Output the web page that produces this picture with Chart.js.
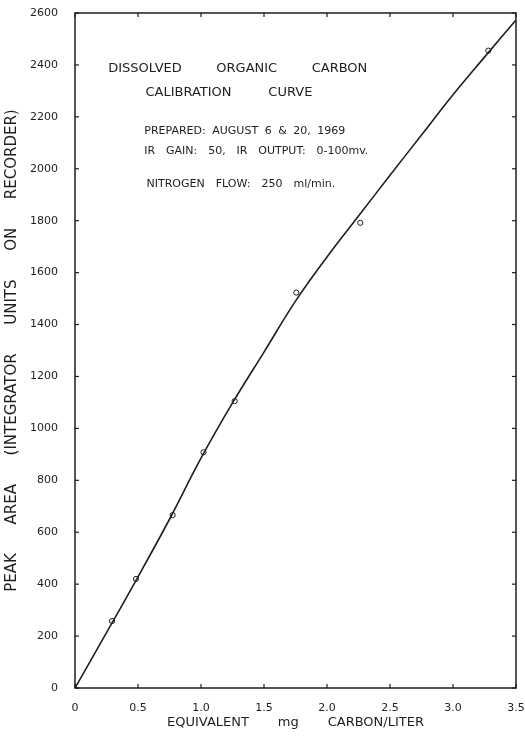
<!DOCTYPE html>
<html><head><meta charset="utf-8">
<script src="https://cdn.jsdelivr.net/npm/chart.js@4/dist/chart.umd.min.js"></script>
<style>html,body{margin:0;padding:0;background:#fff;overflow:hidden}</style>
</head><body>
<canvas id="c" width="525" height="736"></canvas>
<script>
// ---- data ----
const xTickValues = [0, 0.5, 1.0, 1.5, 2.0, 2.5, 3.0, 3.5];
const yTickValues = [0, 200, 400, 600, 800, 1000, 1200, 1400, 1600, 1800, 2000, 2200, 2400, 2600];
const measuredCarbon = [0.294, 0.484, 0.775, 1.02, 1.267, 1.756, 2.264, 3.28];
const measuredPeakArea = [258, 420, 666, 908, 1105, 1523, 1792, 2455];
const curveCarbon = [0, 0.25, 0.5, 0.75, 1.0, 1.25, 1.5, 1.75, 2.0, 2.25, 2.5, 2.75, 3.0, 3.25, 3.5];
const curvePeakArea = [0, 213, 428, 650, 885, 1098, 1294, 1490, 1660, 1818, 1975, 2130, 2285, 2430, 2573];
const noteLines = [
  'DISSOLVED ORGANIC CARBON',
  'CALIBRATION CURVE',
  'PREPARED: AUGUST 6 & 20, 1969',
  'IR GAIN: 50, IR OUTPUT: 0-100mv.',
  'NITROGEN FLOW: 250 ml/min.'
];
const xTitle = 'EQUIVALENT       mg       CARBON/LITER';
const yTitle = 'PEAK      AREA      (INTEGRATOR      UNITS      ON      RECORDER)';

// ---- styling / placement ----
const INK = '#1e1e1e';
const FONT = '"DejaVu Sans", sans-serif';
const notePlacement = [
  {x0: 0.264, x1: 2.32, y: 2385, size: 13},
  {x0: 0.559, x1: 1.884, y: 2292, size: 13},
  {x0: 0.55, x1: 2.145, y: 2146, size: 11},
  {x0: 0.55, x1: 2.328, y: 2069, size: 11},
  {x0: 0.567, x1: 2.066, y: 1941, size: 11}
];

const frameAndNotes = {
  id: 'frameAndNotes',
  afterDatasetsDraw(chart) {
    const {ctx, chartArea: a, scales: {x, y}} = chart;
    ctx.save();
    ctx.strokeStyle = INK;
    ctx.lineWidth = 1.5;
    ctx.strokeRect(a.left, a.top, a.right - a.left, a.bottom - a.top);
    ctx.lineWidth = 1.2;
    const seg = (x1, y1, x2, y2) => { ctx.beginPath(); ctx.moveTo(x1, y1); ctx.lineTo(x2, y2); ctx.stroke(); };
    x.ticks.forEach(t => {
      const p = x.getPixelForValue(t.value);
      seg(p, a.bottom, p, a.bottom - 4);
      seg(p, a.top, p, a.top + 4);
    });
    y.ticks.forEach(t => {
      const p = y.getPixelForValue(t.value);
      seg(a.left, p, a.left + 4, p);
      seg(a.right, p, a.right - 4, p);
    });
    ctx.fillStyle = INK;
    ctx.textAlign = 'left';
    ctx.textBaseline = 'middle';
    noteLines.forEach((txt, i) => {
      const pl = notePlacement[i];
      ctx.font = pl.size + 'px ' + FONT;
      const px0 = x.getPixelForValue(pl.x0);
      const px1 = x.getPixelForValue(pl.x1);
      const py = y.getPixelForValue(pl.y);
      ctx.wordSpacing = '0px';
      const w = ctx.measureText(txt).width;
      const n = (txt.match(/ /g) || []).length;
      if (n > 0) ctx.wordSpacing = ((px1 - px0 - w) / n) + 'px';
      ctx.fillText(txt, px0, py);
    });
    ctx.wordSpacing = '0px';
    ctx.restore();
  }
};

new Chart(document.getElementById('c'), {
  type: 'scatter',
  data: {
    datasets: [
      {
        label: 'curve',
        type: 'line',
        data: curveCarbon.map((v, i) => ({x: v, y: curvePeakArea[i]})),
        borderColor: INK,
        borderWidth: 1.6,
        pointRadius: 0,
        tension: 0.4,
        fill: false
      },
      {
        label: 'measured',
        data: measuredCarbon.map((v, i) => ({x: v, y: measuredPeakArea[i]})),
        pointRadius: 2.6,
        pointBorderWidth: 1,
        borderColor: INK,
        backgroundColor: '#ffffff',
        pointStyle: 'circle'
      }
    ]
  },
  options: {
    responsive: false,
    animation: false,
    devicePixelRatio: 1,
    layout: {padding: {top: 13, right: 9, bottom: 0, left: 0}},
    plugins: {legend: {display: false}, tooltip: {enabled: false}},
    scales: {
      x: {
        type: 'linear',
        min: 0, max: 3.5,
        afterBuildTicks: s => { s.ticks = xTickValues.map(v => ({value: v})); },
        afterFit: s => { s.height = 48; s.paddingLeft = 0; s.paddingRight = 0; },
        grid: {display: false},
        border: {display: false},
        ticks: {
          color: INK, padding: 6, maxRotation: 0,
          font: {family: FONT, size: 11},
          callback: v => v === 0 ? '0' : Number(v).toFixed(1)
        },
        title: {display: true, text: xTitle, color: INK, font: {family: FONT, size: 13}, padding: {top: 0, bottom: 6}}
      },
      y: {
        type: 'linear',
        min: 0, max: 2600,
        afterBuildTicks: s => { s.ticks = yTickValues.map(v => ({value: v})); },
        afterFit: s => { s.width = 75; s.paddingTop = 0; s.paddingBottom = 0; },
        grid: {display: false},
        border: {display: false},
        ticks: {color: INK, padding: 9, font: {family: FONT, size: 11}, callback: v => String(v)},
        title: {display: true, text: yTitle, color: INK, font: {family: FONT, size: 15}, padding: {top: 3, bottom: 0}}
      }
    }
  },
  plugins: [frameAndNotes]
});
</script>
</body></html>
